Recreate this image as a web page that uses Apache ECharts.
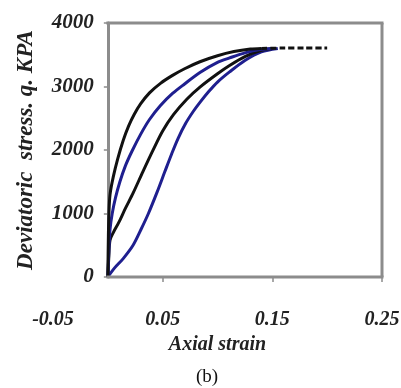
<!DOCTYPE html>
<html>
<head>
<meta charset="utf-8">
<script src="https://cdn.jsdelivr.net/npm/echarts@6/dist/echarts.min.js"></script>
<style>
html,body{margin:0;padding:0;background:#fff;}
#chart{width:401px;height:388px;}
</style>
</head>
<body>
<div id="chart"></div>
<script>
// Axial strain / deviatoric stress readings (x, q) for each curve
const curveBlack1 = [[0,0],[0.0005,650],[0.001,1000],[0.002,1300],[0.005,1580],[0.009,1860],[0.014,2150],[0.019,2380],[0.024,2560],[0.03,2730],[0.038,2900],[0.048,3050],[0.059,3175],[0.07,3280],[0.084,3390],[0.1,3485],[0.115,3550],[0.13,3590],[0.14,3600]];
const curveBlackTail = [[0.14,3600],[0.16,3605],[0.18,3605],[0.2,3605]];
const curveBlue1 = [[0,0],[0.001,450],[0.002,750],[0.004,1000],[0.007,1250],[0.011,1500],[0.016,1750],[0.022,1980],[0.03,2250],[0.038,2480],[0.048,2700],[0.059,2890],[0.07,3040],[0.084,3220],[0.1,3380],[0.111,3450],[0.125,3530],[0.14,3585],[0.15,3600]];
const curveBlack2 = [[0,0],[0.001,350],[0.002,580],[0.005,700],[0.01,860],[0.016,1080],[0.023,1320],[0.032,1660],[0.041,1990],[0.05,2300],[0.06,2560],[0.072,2800],[0.084,2990],[0.1,3200],[0.111,3330],[0.125,3470],[0.14,3570],[0.15,3600]];
const curveBlue2 = [[0,0],[0.006,140],[0.014,290],[0.023,500],[0.03,740],[0.037,1000],[0.045,1340],[0.052,1660],[0.058,1930],[0.064,2180],[0.071,2420],[0.078,2610],[0.084,2750],[0.092,2920],[0.1,3070],[0.111,3230],[0.125,3410],[0.14,3545],[0.155,3600]];

const xTicks = [-0.05, 0.05, 0.15, 0.25];
const yTicks = [0, 1000, 2000, 3000, 4000];
const xName = 'Axial strain';
const yName = 'Deviatoric  stress. q. KPA';
const caption = '(b)';

const BLACK = '#111111';
const BLUE = '#1f1f8f';
const AXIS = '#8c8c8c';
const font = "'Liberation Serif', 'DejaVu Serif', serif";

const GRID_LEFT = 53, GRID_RIGHT = 19;
const PLOT_W = 401 - GRID_LEFT - GRID_RIGHT;
// shift of the y axis from the grid's left edge to the x = 0 position
const yAxisShift = PLOT_W * (0 - xTicks[0]) / (xTicks[xTicks.length-1] - xTicks[0]);

const chart = echarts.init(document.getElementById('chart'), null, {renderer:'canvas'});

function lineSeries(data, color, dashed){
  return {
    type:'line', data:data, showSymbol:false, smooth:0.3,
    lineStyle:{color:color, width:3, type: dashed ? [6,3] : 'solid'},
    silent:true, animation:false
  };
}

const labelStyle = {fontFamily:font, fontSize:20, fontWeight:'bold', fontStyle:'italic', color:'#222'};

chart.setOption({
  animation:false,
  grid:{left:GRID_LEFT, right:GRID_RIGHT, top:23, bottom:111, containLabel:false, outerBoundsMode:'none'},
  xAxis:{
    type:'value', min:xTicks[0], max:xTicks[xTicks.length-1], interval:0.1,
    axisLine:{show:false},
    axisTick:{show:true, customValues:[0.05,0.15,0.25], length:5, lineStyle:{color:AXIS, width:1.5}},
    splitLine:{show:false},
    axisLabel:Object.assign({margin:33, customValues:xTicks, formatter:v=>String(Math.round(v*100)/100)}, labelStyle),
    name:xName, nameLocation:'middle', nameGap:58,
    nameTextStyle:labelStyle
  },
  yAxis:{
    type:'value', min:yTicks[0], max:yTicks[yTicks.length-1], interval:1000,
    offset:-yAxisShift,
    axisLine:{show:true, onZero:false, lineStyle:{color:AXIS, width:3}},
    axisTick:{show:true, length:4, lineStyle:{color:AXIS, width:1.5}},
    splitLine:{show:false},
    axisLabel:Object.assign({margin:14, formatter:v=>String(v)}, labelStyle, {fontSize:21}),
    name:yName, nameLocation:'middle', nameGap:70,
    nameTextStyle:Object.assign({}, labelStyle, {fontSize:23})
  },
  series:[
    lineSeries(curveBlue2, BLUE),
    lineSeries(curveBlack2, BLACK),
    lineSeries(curveBlue1, BLUE),
    lineSeries(curveBlack1, BLACK),
    lineSeries(curveBlackTail, BLACK, true)
  ]
});

// plot frame (bottom axis line from x=0, top and right borders)
const p00 = chart.convertToPixel({gridIndex:0},[0,0]);
const pR0 = chart.convertToPixel({gridIndex:0},[xTicks[xTicks.length-1],0]);
const p0T = chart.convertToPixel({gridIndex:0},[0,yTicks[yTicks.length-1]]);
const pRT = chart.convertToPixel({gridIndex:0},[xTicks[xTicks.length-1],yTicks[yTicks.length-1]]);
chart.setOption({
  graphic:[
    {type:'line', shape:{x1:p00[0]-1.5,y1:p00[1],x2:pR0[0]+1.5,y2:pR0[1]}, style:{stroke:AXIS, lineWidth:3}, z:10},
    {type:'line', shape:{x1:p0T[0]-1.5,y1:p0T[1],x2:pRT[0]+1.5,y2:pRT[1]}, style:{stroke:AXIS, lineWidth:3}, z:10},
    {type:'line', shape:{x1:pRT[0],y1:pRT[1],x2:pR0[0],y2:pR0[1]}, style:{stroke:AXIS, lineWidth:3}, z:10},
    {type:'text', x:207, y:377, style:{text:caption, fontFamily:font, fontSize:19, fill:'#111', align:'center', verticalAlign:'middle'}, z:10}
  ]
});
</script>
</body>
</html>
